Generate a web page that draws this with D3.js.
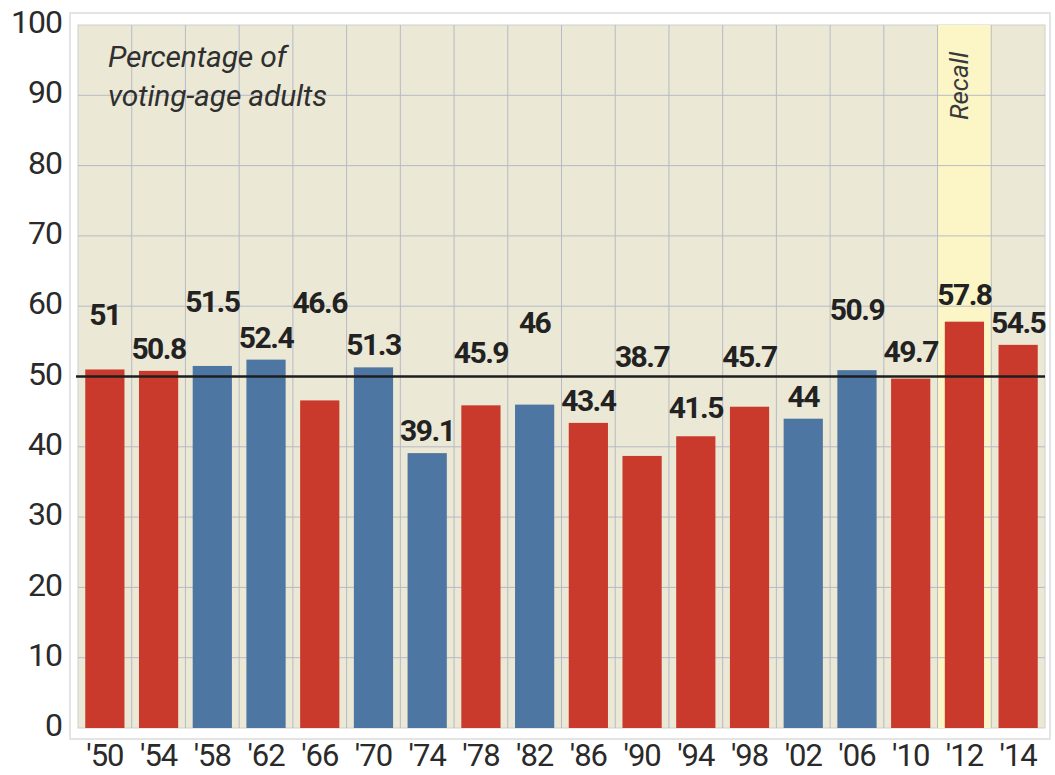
<!DOCTYPE html>
<html>
<head>
<meta charset="utf-8">
<script src="https://cdn.jsdelivr.net/npm/d3@7"></script>
<style>
  body { margin: 0; background: #fff; }
  svg { display: block; }
</style>
</head>
<body>
<div id="chart-area"></div>
<script>
// election years and turnout (% of voting-age adults)
const years = ["'50", "'54", "'58", "'62", "'66", "'70", "'74", "'78", "'82",
  "'86", "'90", "'94", "'98", "'02", "'06", "'10", "'12", "'14"]
const turnout = [51, 50.8, 51.5, 52.4, 46.6, 51.3, 39.1, 45.9, 46,
  43.4, 38.7, 41.5, 45.7, 44, 50.9, 49.7, 57.8, 54.5]
// party of the winner
const winner = ["Rep", "Rep", "Dem", "Dem", "Rep", "Dem", "Dem", "Rep", "Dem",
  "Rep", "Rep", "Rep", "Rep", "Dem", "Dem", "Rep", "Rep", "Rep"]
const yTicks = [0, 10, 20, 30, 40, 50, 60, 70, 80, 90, 100]
const recallYear = "'12"
const referenceValue = 50

const WIDTH = 1055
const HEIGHT = 775
const PLOT = { LEFT: 78, RIGHT: 1045, TOP: 25, BOTTOM: 728 }

const colors = { Rep: "#c93a2c", Dem: "#4e76a2" }

// some labels are pushed up so they clear the 50 line / neighbours (px)
const labelLift = { "'50": 32, "'58": 42, "'66": 75, "'78": 30, "'82": 60,
  "'90": 77, "'94": 6, "'98": 28, "'06": 38, "'10": 5, "'12": 5 }

const svg = d3.select("#chart-area").append("svg")
  .attr("width", WIDTH)
  .attr("height", HEIGHT)

// scales
const x = d3.scaleBand()
  .domain(years)
  .range([PLOT.LEFT, PLOT.RIGHT])
  .paddingInner(0.27)
  .paddingOuter(0.135)
const y = d3.scaleLinear()
  .domain([0, 100])
  .range([PLOT.BOTTOM, PLOT.TOP])

// panel frame
svg.append("rect")
  .attr("x", 70).attr("y", 13)
  .attr("width", 980).attr("height", 726)
  .attr("fill", "#fff")
  .attr("stroke", "#e4e4e4")
  .attr("stroke-width", 2)

// plot background
svg.append("rect")
  .attr("x", PLOT.LEFT).attr("y", PLOT.TOP)
  .attr("width", PLOT.RIGHT - PLOT.LEFT)
  .attr("height", PLOT.BOTTOM - PLOT.TOP)
  .attr("fill", "#ebe8d5")
  .attr("stroke", "#cfcfcf")

// recall highlight
svg.append("rect")
  .attr("x", x(recallYear) - x.step() * x.paddingInner() / 2)
  .attr("y", PLOT.TOP)
  .attr("width", x.step())
  .attr("height", PLOT.BOTTOM - PLOT.TOP)
  .attr("fill", "#fcf6c6")

// grid
const grid = svg.append("g")
  .attr("stroke", "#b7bac6")
  .attr("stroke-width", 1)
grid.selectAll(".hgrid")
  .data(yTicks.filter(d => d > 0 && d < 100))
  .enter().append("line")
  .attr("x1", PLOT.LEFT).attr("x2", PLOT.RIGHT)
  .attr("y1", d => y(d)).attr("y2", d => y(d))
grid.selectAll(".vgrid")
  .data(years.slice(1))
  .enter().append("line")
  .attr("x1", d => x(d) - x.step() * x.paddingInner() / 2)
  .attr("x2", d => x(d) - x.step() * x.paddingInner() / 2)
  .attr("y1", PLOT.TOP).attr("y2", PLOT.BOTTOM)

// Recall label
svg.append("text")
  .attr("transform", `translate(${x(recallYear) + x.bandwidth() / 2 + 4}, 86) rotate(-90)`)
  .attr("text-anchor", "middle")
  .attr("font-family", "Roboto, sans-serif")
  .attr("font-style", "italic")
  .attr("font-size", 26)
  .attr("fill", "#3a3a3a")
  .text("Recall")

// bars
svg.selectAll(".bar")
  .data(years)
  .enter().append("rect")
  .attr("class", "bar")
  .attr("x", d => x(d))
  .attr("width", x.bandwidth())
  .attr("y", (d, i) => y(turnout[i]))
  .attr("height", (d, i) => y(0) - y(turnout[i]))
  .attr("fill", (d, i) => colors[winner[i]])

// 50% reference line
svg.append("line")
  .attr("x1", PLOT.LEFT - 2).attr("x2", PLOT.RIGHT)
  .attr("y1", y(referenceValue)).attr("y2", y(referenceValue))
  .attr("stroke", "#1e1e1e")
  .attr("stroke-width", 2.5)

// value labels
svg.selectAll(".value")
  .data(years)
  .enter().append("text")
  .attr("class", "value")
  .attr("x", d => x(d) + x.bandwidth() / 2)
  .attr("y", (d, i) => y(turnout[i]) - 12 - (labelLift[d] || 0))
  .attr("text-anchor", "middle")
  .attr("font-family", "Roboto, sans-serif")
  .attr("font-weight", "bold")
  .attr("font-size", 30)
  .attr("letter-spacing", -1.5)
  .attr("fill", "#222")
  .text((d, i) => turnout[i])

// axes
const yAxisCall = d3.axisLeft(y)
  .tickValues(yTicks)
  .tickSize(0)
  .tickPadding(16)
const yAxis = svg.append("g")
  .attr("transform", `translate(${PLOT.LEFT}, 0)`)
  .call(yAxisCall)
yAxis.select(".domain").remove()
yAxis.selectAll("text")
  .attr("dy", "0.24em")
  .attr("font-family", "Roboto, sans-serif")
  .attr("font-size", 32)
  .attr("letter-spacing", -1)
  .attr("fill", "#2a2a2a")

const xAxisCall = d3.axisBottom(x)
  .tickSize(0)
  .tickPadding(16)
const xAxis = svg.append("g")
  .attr("transform", `translate(0, ${PLOT.BOTTOM})`)
  .call(xAxisCall)
xAxis.select(".domain").remove()
xAxis.selectAll("text")
  .attr("font-family", "Roboto, sans-serif")
  .attr("font-size", 31)
  .attr("letter-spacing", -1)
  .attr("fill", "#2a2a2a")

// in-chart note
const note = svg.append("text")
  .attr("font-family", "Roboto, sans-serif")
  .attr("font-style", "italic")
  .attr("font-size", 30)
  .attr("letter-spacing", -0.2)
  .attr("fill", "#2f2f2f")
note.append("tspan").attr("x", 108).attr("y", 67).text("Percentage of")
note.append("tspan").attr("x", 108).attr("y", 106).text("voting-age adults")
</script>
</body>
</html>
